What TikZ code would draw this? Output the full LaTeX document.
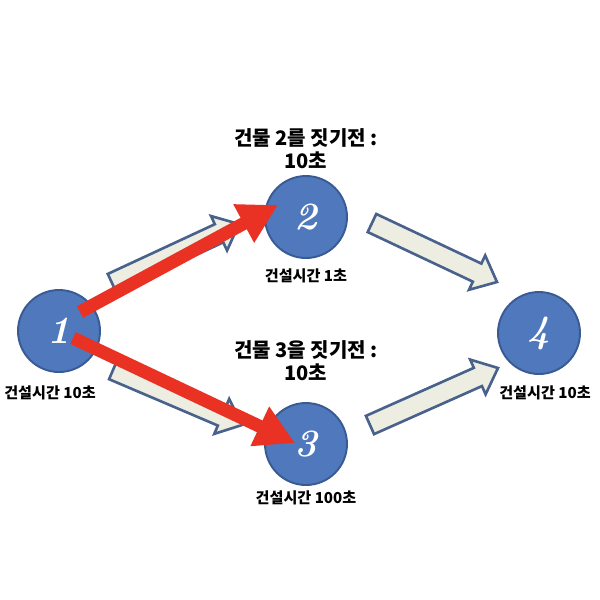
\documentclass[tikz,border=0pt]{standalone}
\usepackage{fontspec}
\newfontfamily\kr{Noto Sans CJK KR}
\usetikzlibrary{arrows.meta,positioning,calc}

\definecolor{nodeblue}{RGB}{79,121,188}
\definecolor{nodeedge}{RGB}{58,90,148}
\definecolor{blkfill}{RGB}{238,237,226}
\definecolor{blkedge}{RGB}{72,98,140}
\definecolor{pathred}{RGB}{233,50,36}

% fat outlined arrow from tail #1 to tip #2
\newcommand{\blockarrow}[2]{%
  \coordinate (neck) at ($(#2)!0.44cm!(#1)$);
  \draw[blk] ($(#1)!0.2cm!90:(#2)$) -- ($(neck)!0.2cm!90:(#2)$)
    -- ($(neck)!0.38cm!90:(#2)$) -- (#2)
    -- ($(neck)!0.38cm!-90:(#2)$) -- ($(neck)!0.2cm!-90:(#2)$)
    -- ($(#1)!0.2cm!-90:(#2)$) -- cycle;
}

\begin{document}
\begin{tikzpicture}[
  x=0.02cm, y=-0.02cm,
  every node/.style={font=\kr},
  stage/.style ={circle, draw=nodeedge, line width=1.1pt, fill=nodeblue,
                 minimum size=1.64cm, inner sep=0pt, text=white,
                 font=\fontsize{22}{22}\selectfont\bfseries\itshape},
  lbl/.style   ={inner sep=0pt, font=\kr\bfseries\fontsize{8.6}{10}\selectfont},
  ttl/.style   ={inner sep=0pt, align=center,
                 font=\kr\bfseries\fontsize{11.4}{13}\selectfont},
  blk/.style   ={draw=blkedge, fill=blkfill, line width=1.5pt},
  redarr/.style={pathred, line width=0.26cm,
                 -{Triangle[length=0.78cm, width=0.82cm]}}
]
\useasboundingbox (0,0) rectangle (600,600);

%% ---- stages ------------------------------------------------------
\node[stage] (n1) at (59,331)  {1};
\node[stage] (n2) at (306,217) {2};
\node[stage] (n3) at (306,444) {3};
\node[stage] (n4) at (539,333) {4};

\node[lbl, below=7pt of n1, xshift=-9*0.02cm] (l1) {건설시간 10초};
\node[lbl, below=5.3pt of n2] (l2) {건설시간 1초};
\node[lbl, below=2.4pt of n3] (l3) {건설시간 100초};
\node[lbl, below=6pt of n4, xshift=6*0.02cm] (l4) {건설시간 10초};

\node[ttl, above=3.4pt of n2] (t2) {건물 2를 짓기전 :\\10초};
\node[ttl, above=12pt of n3]  (t3) {건물 3을 짓기전 :\\10초};

%% ---- block arrows ------------------------------------------------
\coordinate (b12s) at ($(n1)+(53,-48)$);
\coordinate (b12e) at ($(n2)+(-67,7)$);
\coordinate (b13s) at ($(n1)+(54,39)$);
\coordinate (b13e) at ($(n3)+(-64,-19)$);
\coordinate (b24s) at ($(n2)+(66,6)$);
\coordinate (b24e) at ($(n4)+(-42,-51)$);
\coordinate (b34s) at ($(n3)+(64,-19)$);
\coordinate (b34e) at ($(n4)+(-41,35)$);

\blockarrow{b12s}{b12e}
\blockarrow{b13s}{b13e}
\blockarrow{b24s}{b24e}
\blockarrow{b34s}{b34e}

%% ---- critical path -----------------------------------------------
\draw[redarr] ([shift={(21,-19)}]n1.center) -- ([shift={(-28,-12)}]n2.center);
\draw[redarr] ([shift={(14,7)}]n1.center)   -- ([shift={(-11,-1)}]n3.center);

\end{tikzpicture}
\end{document}
